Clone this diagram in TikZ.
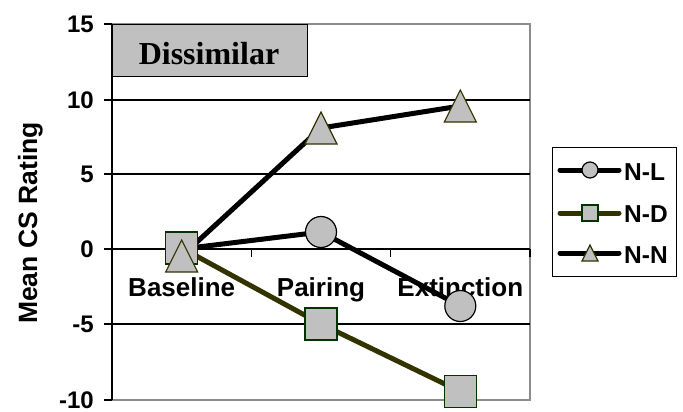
\documentclass[tikz,border=0pt]{standalone}
\usepackage{fontspec}
\setmainfont{Liberation Serif}
\setsansfont{Liberation Sans}
\usetikzlibrary{shapes.geometric,calc}

\definecolor{markgray}{RGB}{192,192,192}
\definecolor{framegray}{RGB}{140,140,140}
\definecolor{dkolive}{RGB}{51,51,0}
\definecolor{dkgreen}{RGB}{0,51,0}

\tikzset{
  ticklabel/.style={font=\sffamily\bfseries\fontsize{24}{24}\selectfont, inner sep=0pt},
  catlabel/.style={font=\sffamily\bfseries\fontsize{26}{26}\selectfont, inner sep=0pt},
  legtext/.style={font=\sffamily\bfseries\fontsize{24.5}{24.5}\selectfont, inner sep=0pt, anchor=base west},
  grid line/.style={black, line width=1.3pt},
  series/.style={line width=5pt, line join=round},
  circmark/.style={circle, draw=black, fill=markgray, line width=1.2pt, minimum size=31pt, inner sep=0pt, outer sep=0pt},
  sqmark/.style={rectangle, draw=dkgreen, fill=markgray, line width=1.2pt, minimum size=32pt, inner sep=0pt, outer sep=0pt},
  trimark/.style={isosceles triangle, shape border rotate=90, isosceles triangle stretches,
    minimum width=32pt, minimum height=32pt, draw=dkolive, fill=markgray, line width=1.2pt,
    inner sep=0pt, outer sep=0pt, anchor=apex},
}

\begin{document}
\begin{tikzpicture}[x=1pt,y=-1pt]
\useasboundingbox (0,0) rectangle (683,412);

% plot frame and grid
\draw[framegray, line width=1.3pt] (112,24) -- (530,24) -- (530,400) -- (112,400);
\foreach \yy in {100,174,249,324}
  \draw[grid line] (112,\yy) -- (530,\yy);
\draw[grid line] (112,24) -- (112,400);
\foreach \yy/\lab in {24/15,100/10,174/5,249/0,324/-5,400/-10} {
  \draw[grid line] (104,\yy) -- (112,\yy);
  \node[ticklabel, anchor=east] at (94,\yy) {\lab};
}
\foreach \xx in {251.3,390.7,530}
  \draw[grid line] (\xx,249) -- (\xx,257);

% title box
\node[draw=black, fill=markgray, line width=1.3pt, minimum width=195pt, minimum height=52pt,
  inner sep=0pt, anchor=north west] (title) at (112,24) {};
\node[font=\bfseries\fontsize{32}{32}\selectfont, anchor=base] at (209,65) {Dissimilar};

% axis titles
\node[font=\sffamily\bfseries\fontsize{26.5}{26.5}\selectfont, rotate=90, anchor=base] (ytitle) at (37,223) {Mean CS Rating};
\node[catlabel, anchor=base] (cat1) at (181.7,296) {Baseline};
\node[catlabel, anchor=base] (cat2) at (321,296) {Pairing};
\node[catlabel, anchor=base] (cat3) at (460.3,296) {Extinction};

% data points
\coordinate (nl1) at (181.7,249);
\coordinate (nl2) at (321,232);
\coordinate (nl3) at (460.3,306);
\coordinate (nd1) at (181.7,248);
\coordinate (nd2) at (321,324);
\coordinate (nd3) at (460.3,391.5);
\coordinate (nn1) at (181.7,256);
\coordinate (nn2) at (321,128);
\coordinate (nn3) at (460.3,106);

\draw[series, black] (nl1) -- (nl2) -- (nl3);
\draw[series, dkolive] (nd1) -- (nd2) -- (nd3);
\draw[series, black] (nn1) -- (nn2) -- (nn3);

\foreach \i in {1,2,3}
  \node[circmark] (nlm\i) at (nl\i) {};
\foreach \i in {1,2,3}
  \node[sqmark] (ndm\i) at (nd\i) {};
\foreach \i in {1,2,3}
  \node[trimark] (nnm\i) at ($(nn\i)+(0,-16)$) {};

% legend
\node[draw=black, line width=1.3pt, minimum width=124pt, minimum height=129pt,
  inner sep=0pt, anchor=north west] (legend) at (552,147) {};
\foreach \yy/\nm in {170/nl,213/nd,253/nn}
  \coordinate (\nm a) at (560,\yy);
\foreach \yy/\nm in {170/nl,213/nd,253/nn}
  \coordinate (\nm b) at (619,\yy);
\draw[series, black, line cap=round] (nla) -- (nlb);
\draw[series, dkolive, line cap=round] (nda) -- (ndb);
\draw[series, black, line cap=round] (nna) -- (nnb);
\node[circmark, minimum size=16pt] (legl) at (590,170) {};
\node[sqmark, minimum size=16pt] (legd) at (590,213) {};
\node[trimark, minimum width=16pt, minimum height=16pt] (legn) at (590,245) {};
\node[legtext] (tnl) at (624,180) {N-L};
\node[legtext] (tnd) at (624,222) {N-D};
\node[legtext] (tnn) at (624,263) {N-N};
\end{tikzpicture}
\end{document}
